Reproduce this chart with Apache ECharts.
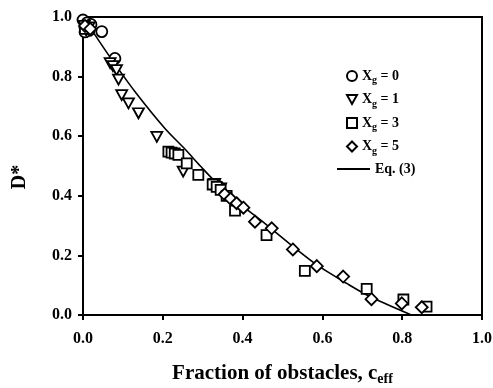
<!DOCTYPE html>
<html>
<head>
<meta charset="utf-8">
<script src="https://cdn.jsdelivr.net/npm/echarts@6/dist/echarts.min.js"></script>
<style>
  html, body { margin: 0; padding: 0; background: #fff; }
  #chart { width: 493px; height: 388px; }
</style>
</head>
<body>
<div id="chart"></div>
<script>
// data (c_eff, D*)
var xg0Points = [[0.0, 0.99], [0.005, 0.965], [0.01, 0.98], [0.015, 0.955], [0.02, 0.975],
    [0.005, 0.95], [0.012, 0.962], [0.047, 0.951], [0.08, 0.861], [0.335, 0.435], [0.34, 0.43]];
var xg1Points = [[0.003, 0.97], [0.015, 0.965], [0.008, 0.955], [0.068, 0.845], [0.075, 0.835],
    [0.084, 0.822], [0.089, 0.79], [0.097, 0.738], [0.114, 0.71], [0.139, 0.677], [0.185, 0.598],
    [0.251, 0.481], [0.33, 0.44], [0.345, 0.425]];
var xg3Points = [[0.005, 0.96], [0.214, 0.548], [0.222, 0.545], [0.23, 0.542], [0.239, 0.537],
    [0.26, 0.509], [0.289, 0.47], [0.325, 0.438], [0.335, 0.43], [0.345, 0.42], [0.36, 0.4],
    [0.381, 0.35], [0.46, 0.268], [0.556, 0.148], [0.711, 0.088], [0.803, 0.052], [0.861, 0.028]];
var xg5Points = [[0.005, 0.97], [0.018, 0.96], [0.355, 0.405], [0.37, 0.39], [0.385, 0.375],
    [0.402, 0.36], [0.431, 0.313], [0.473, 0.291], [0.526, 0.22], [0.586, 0.164], [0.652, 0.129],
    [0.723, 0.053], [0.799, 0.039], [0.849, 0.026]];
// Eq. (3) curve
var eqC = [0, 0.03, 0.068, 0.13, 0.206, 0.256, 0.294, 0.335, 0.40, 0.444, 0.527, 0.586, 0.661, 0.719, 0.823];
var eqD = [1.0, 0.94, 0.865, 0.75, 0.625, 0.556, 0.5, 0.443, 0.365, 0.32, 0.229, 0.168, 0.106, 0.062, 0.0];

var seriesNames = ['Xg = 0', 'Xg = 1', 'Xg = 3', 'Xg = 5', 'Eq. (3)'];

var FONT = '"Liberation Serif", "Times New Roman", serif';
var DOWN_TRI = 'path://M0,0 L10,0 L5,9 Z';

var chart = echarts.init(document.getElementById('chart'));

// hollow black marker
function hollow(name, data, symbol, size) {
    return {
        name: name,
        type: 'scatter',
        data: data,
        symbol: symbol,
        symbolSize: size,
        itemStyle: { color: '#fff', borderColor: '#000', borderWidth: 1.8, opacity: 1 },
        z: 3
    };
}

var legendRich = {
    b: { fontFamily: FONT, fontWeight: 'bold', fontSize: 14, color: '#000' },
    s: { fontFamily: FONT, fontWeight: 'bold', fontSize: 10, color: '#000', padding: [9, 0, 0, 0] }
};

var axisLabelStyle = {
    fontFamily: FONT, fontWeight: 'bold', fontSize: 16, color: '#000',
    formatter: function (v) { return v.toFixed(1); }
};

var option = {
    animation: false,
    backgroundColor: '#fff',
    grid: {
        left: 83, right: 11, top: 17, bottom: 73,
        outerBoundsMode: 'none',
        show: true, borderColor: '#000', borderWidth: 2
    },
    legend: [
        {
            orient: 'vertical',
            left: 341,
            top: 64,
            itemWidth: 10,
            itemHeight: 10,
            itemGap: 7,
            itemTextGap: 20,
            symbolKeepAspect: true,
            data: [
                { name: seriesNames[0], icon: 'circle' },
                { name: seriesNames[1], icon: DOWN_TRI },
                { name: seriesNames[2], icon: 'rect' },
                { name: seriesNames[3], icon: 'diamond' }
            ],
            formatter: function (name) {
                return '{b|X}{s|g}{b|' + name.slice(2) + '}';
            },
            textStyle: { rich: legendRich }
        },
        {
            orient: 'vertical',
            left: 332,
            top: 157,
            itemWidth: 33,
            itemHeight: 2,
            itemTextGap: 4,
            data: [{ name: seriesNames[4], icon: 'rect' }],
            formatter: function (name) { return '{b|' + name + '}'; },
            textStyle: { rich: legendRich }
        }
    ],
    xAxis: {
        type: 'value',
        min: 0, max: 1, interval: 0.2,
        name: '{b|Fraction of obstacles, c}{s|eff}',
        nameLocation: 'middle',
        nameGap: 46,
        nameTextStyle: {
            rich: {
                b: { fontFamily: FONT, fontWeight: 'bold', fontSize: 21, color: '#000' },
                s: { fontFamily: FONT, fontWeight: 'bold', fontSize: 14, color: '#000', padding: [11, 0, 0, 0] }
            }
        },
        axisLine: { lineStyle: { color: '#000', width: 2 } },
        axisTick: { inside: false, length: 5, lineStyle: { color: '#000', width: 2 } },
        splitLine: { show: false },
        axisLabel: Object.assign({ margin: 16 }, axisLabelStyle)
    },
    yAxis: {
        type: 'value',
        min: 0, max: 1, interval: 0.2,
        name: 'D*',
        nameLocation: 'middle',
        nameGap: 53,
        nameTextStyle: {
            fontFamily: FONT, fontWeight: 'bold', fontSize: 20, color: '#000',
            padding: [0, 22, 0, 0]
        },
        axisLine: { lineStyle: { color: '#000', width: 2 } },
        axisTick: { inside: false, length: 5, lineStyle: { color: '#000', width: 2 } },
        splitLine: { show: false },
        axisLabel: Object.assign({ margin: 11 }, axisLabelStyle)
    },
    series: [
        hollow(seriesNames[0], xg0Points, 'circle', 11),
        hollow(seriesNames[1], xg1Points, DOWN_TRI, [11, 10]),
        hollow(seriesNames[2], xg3Points, 'rect', 10),
        hollow(seriesNames[3], xg5Points, 'diamond', 12),
        {
            name: seriesNames[4],
            type: 'line',
            smooth: 0.3,
            symbol: 'none',
            lineStyle: { color: '#000', width: 1.6 },
            itemStyle: { color: '#000' },
            data: eqC.map(function (c, i) { return [c, eqD[i]]; }),
            z: 2
        }
    ]
};

chart.setOption(option);
</script>
</body>
</html>
